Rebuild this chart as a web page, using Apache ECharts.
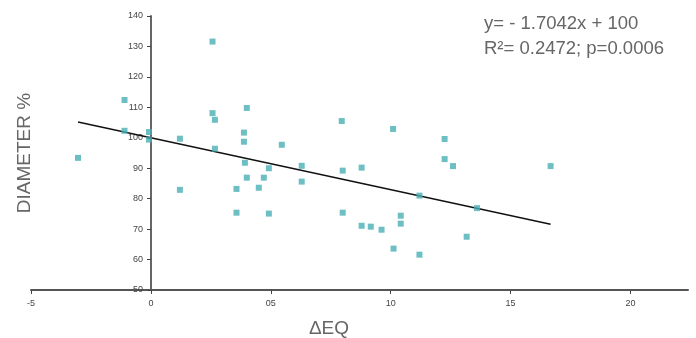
<!DOCTYPE html>
<html>
<head>
<meta charset="utf-8">
<script src="https://cdn.jsdelivr.net/npm/echarts@6/dist/echarts.min.js"></script>
<style>
  html, body { margin: 0; padding: 0; background: #fff; }
  #chart { width: 696px; height: 338px; }
</style>
</head>
<body>
<div id="chart"></div>
<script>
// measured points (ΔEQ, DIAMETER %)
const deltaEq = [
  -3.04, -1.1, -1.1, -0.08, -0.08, 1.21, 2.57, 2.57, 2.67, 2.67, 1.21,
  3.57, 3.57, 4.0, 3.88, 3.88, 5.46, 3.92, 4.92, 6.29, 7.96, 10.1,
  12.25, 12.25, 12.6, 8.0, 8.79, 4.0, 4.71, 4.5, 6.29, 4.92, 8.0,
  8.79, 9.17, 9.62, 10.42, 10.42, 10.12, 11.2, 11.2, 13.17, 16.67, 13.6
]
const diameter = [
  93.4, 112.4, 102.3, 101.9, 99.4, 99.7, 131.6, 108.1, 105.9, 96.4, 82.9,
  83.2, 75.4, 109.8, 101.7, 98.7, 97.7, 91.8, 90.0, 90.8, 105.5, 102.9,
  99.6, 93.0, 90.7, 89.2, 90.2, 86.9, 86.9, 83.6, 85.6, 75.1, 75.4,
  71.1, 70.8, 69.8, 74.4, 71.8, 63.6, 81.0, 61.6, 67.5, 90.7, 76.9
]

// regression from the chart legend text
const slope = -1.7042
const intercept = 100
const fitRange = [-3.04, 16.67]

const xTickValues = [-5, 0, 5, 10, 15, 20]
const xTickLabels = ['-5', '0', '05', '10', '15', '20']

const eqText = 'y= - 1.7042x + 100'
const statText = 'R\u00b2= 0.2472; p=0.0006'

const points = deltaEq.map((x, i) => [x, diameter[i]])
const fitLine = fitRange.map((x) => [x, slope * x + intercept])

const tickFont = '"Liberation Sans", Arial, sans-serif'

const myChart = echarts.init(document.getElementById('chart'))

myChart.setOption({
  animation: false,
  grid: {
    left: 31,
    right: 8,
    top: 16,
    bottom: 48,
    outerBoundsMode: 'none',
  },
  xAxis: {
    type: 'value',
    min: -5,
    max: 22.4,
    name: 'ΔEQ',
    nameLocation: 'middle',
    nameGap: 29,
    nameTextStyle: {
      color: '#666',
      fontSize: 19,
      fontFamily: tickFont,
      padding: [0, 61, 0, 0],
    },
    axisLine: {
      show: true,
      onZero: false,
      lineStyle: { color: '#555', width: 2 },
    },
    axisTick: {
      show: true,
      length: 4,
      customValues: xTickValues,
      lineStyle: { color: '#444' },
    },
    axisLabel: {
      customValues: xTickValues,
      margin: 9,
      fontSize: 9,
      color: '#444',
      fontFamily: tickFont,
      formatter: (value) => {
        const i = xTickValues.indexOf(value)
        return i >= 0 ? xTickLabels[i] : ''
      },
    },
    splitLine: { show: false },
  },
  yAxis: {
    type: 'value',
    min: 50,
    max: 140,
    interval: 10,
    // y axis sits at x = 0 (5 units * 24px right of grid left)
    offset: -120,
    name: 'DIAMETER %',
    nameLocation: 'middle',
    nameGap: 117,
    nameTextStyle: {
      color: '#666',
      fontSize: 19,
      fontFamily: tickFont,
    },
    axisLine: {
      show: true,
      onZero: false,
      lineStyle: { color: '#666', width: 2 },
    },
    axisTick: {
      show: true,
      length: 4,
      lineStyle: { color: '#444' },
    },
    axisLabel: {
      margin: 8,
      fontSize: 9,
      color: '#444',
      fontFamily: tickFont,
    },
    splitLine: { show: false },
  },
  series: [
    {
      type: 'line',
      data: fitLine,
      symbol: 'none',
      lineStyle: { color: '#111', width: 1.4 },
      emphasis: { disabled: true },
      silent: true,
      z: 1,
    },
    {
      type: 'scatter',
      data: points,
      symbol: 'rect',
      symbolSize: 6,
      itemStyle: { color: '#48afb5' },
      emphasis: { disabled: true },
      z: 2,
    },
  ],
  graphic: [
    {
      type: 'text',
      left: 484,
      top: 14,
      style: {
        text: eqText,
        fill: '#666',
        font: '18.5px "Liberation Sans", Arial, sans-serif',
      },
    },
    {
      type: 'text',
      left: 484,
      top: 39,
      style: {
        text: statText,
        fill: '#666',
        font: '18.5px "Liberation Sans", Arial, sans-serif',
      },
    },
  ],
})
</script>
</body>
</html>
